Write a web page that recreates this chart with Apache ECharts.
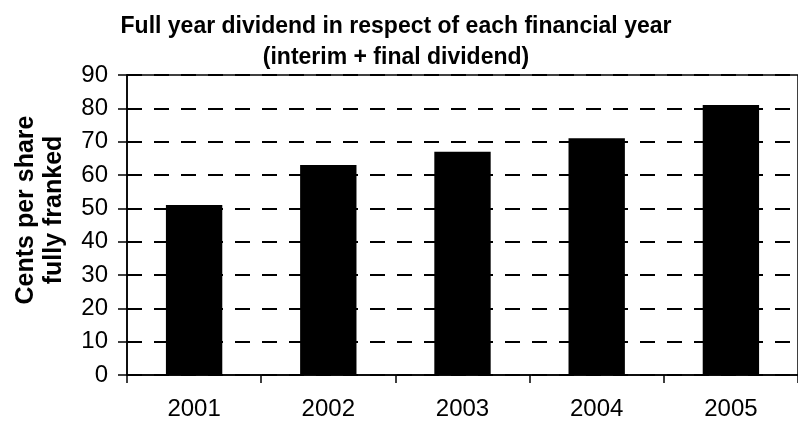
<!DOCTYPE html>
<html>
<head>
<meta charset="utf-8">
<script src="https://cdn.jsdelivr.net/npm/echarts@6/dist/echarts.min.js"></script>
<style>html,body{margin:0;padding:0;background:#fff}#c{width:798px;height:423px}</style>
</head>
<body>
<div id="c"></div>
<script>
var categories = ['2001', '2002', '2003', '2004', '2005'];
var dividends = [51, 63, 67, 71, 81];
var yTicks = [0, 10, 20, 30, 40, 50, 60, 70, 80, 90];
var titleLines = ['Full year dividend in respect of each financial year', '(interim + final dividend)'];
var yNameLines = ['Cents per share', 'fully franked'];

var chart = echarts.init(document.getElementById('c'), null, {renderer: 'canvas'});
var font = 'Liberation Sans, Arial, sans-serif';
chart.setOption({
  animation: false,
  backgroundColor: '#fff',
  title: {
    text: titleLines.join('\n'),
    left: 391, top: 6, textAlign: 'center',
    textStyle: {fontFamily: font, fontSize: 23, fontWeight: 'bold', color: '#000', lineHeight: 31}
  },
  graphic: [{
    type: 'text', x: 40, y: 210, rotation: Math.PI / 2,
    style: {
      text: yNameLines.join('\n'), fontFamily: font, fontSize: 25, fontWeight: 'bold',
      fill: '#000', align: 'center', verticalAlign: 'middle', lineHeight: 28
    }
  }],
  grid: {left: 127, top: 75, bottom: 48, right: -9, show: true, borderColor: '#000', borderWidth: 1.5, backgroundColor: 'transparent'},
  xAxis: {
    type: 'category', data: categories,
    axisLine: {lineStyle: {color: '#000', width: 1.5}},
    axisTick: {show: true, length: 8, lineStyle: {color: '#000', width: 1.5}},
    axisLabel: {fontFamily: font, fontSize: 24, color: '#000', margin: 22},
    splitLine: {show: false}
  },
  yAxis: {
    type: 'value', min: yTicks[0], max: yTicks[yTicks.length - 1], interval: 10,
    axisLine: {show: true, lineStyle: {color: '#000', width: 1.5}},
    axisTick: {show: true, length: 9, lineStyle: {color: '#000', width: 1.5}},
    axisLabel: {fontFamily: font, fontSize: 24, color: '#000', margin: 19},
    splitLine: {show: true, lineStyle: {color: '#000', width: 2, type: [15, 12]}}
  },
  series: [{
    type: 'bar', data: dividends, barWidth: '42%',
    itemStyle: {color: '#000'}
  }]
});
</script>
</body>
</html>
